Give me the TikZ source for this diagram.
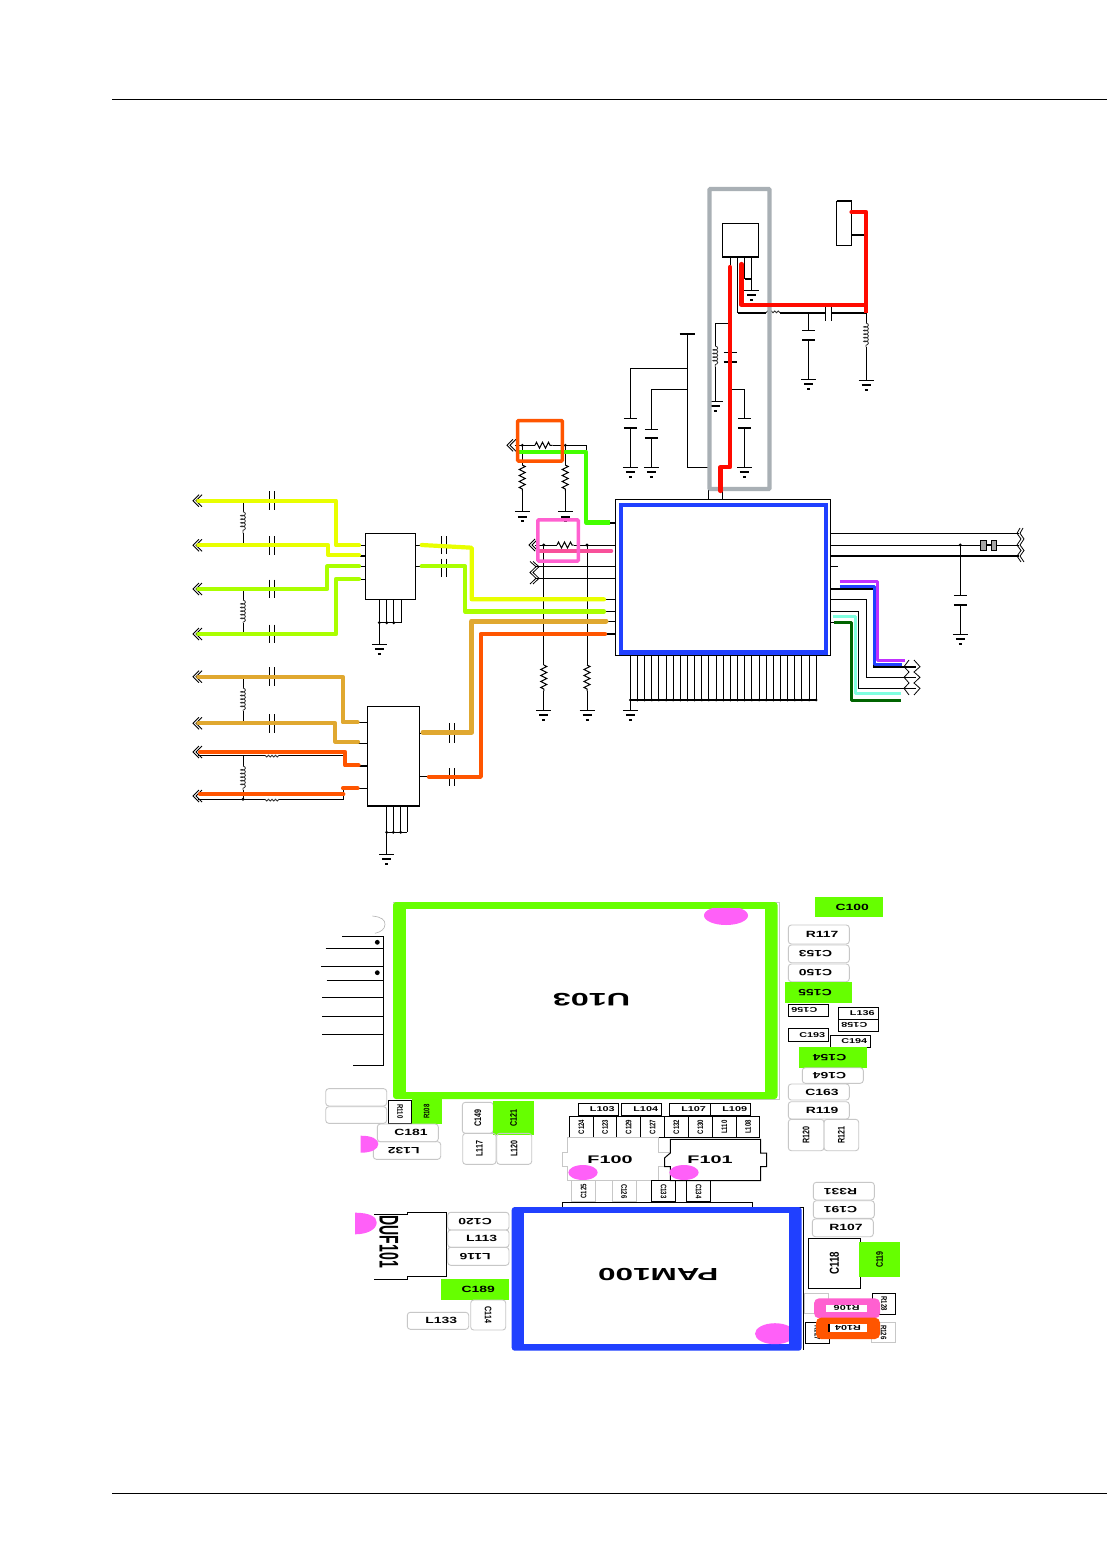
\documentclass[tikz,border=0pt]{standalone}
\usepackage{fontspec}
\setmainfont{Liberation Sans}
\newfontfamily\widefont[FakeStretch=1.55]{Liberation Sans}
\newfontfamily\narrowfont[FakeStretch=0.75]{Liberation Sans}
\newfontfamily\hugefont[FakeStretch=1.8]{Liberation Sans}
\usetikzlibrary{decorations.pathmorphing}

\definecolor{cyellow}{HTML}{E8FF00}
\definecolor{clime}{HTML}{AAFF00}
\definecolor{cgold}{HTML}{E0A830}
\definecolor{corange}{HTML}{FF5500}
\definecolor{cgreen}{HTML}{66FF00}
\definecolor{cnet}{HTML}{44FF00}
\definecolor{cblue}{HTML}{2040FF}
\definecolor{cgrey}{HTML}{A9B0B5}
\definecolor{cred}{HTML}{FF0A00}
\definecolor{cpink}{HTML}{FF60D0}
\definecolor{crose}{HTML}{F8509A}
\definecolor{cmagenta}{HTML}{FF60F8}
\definecolor{cpurple}{HTML}{C030FF}
\definecolor{caqua}{HTML}{80FFE0}
\definecolor{cdark}{HTML}{006400}

\newcommand{\padgap}{}
\tikzset{
    wire/.style={line width=1},
    fatwire/.style={line width=2},
    net/.style={line width=4.2,line cap=round,line join=round},
    box/.style={draw,line width=1,inner sep=0,outer sep=0},
    pad/.style={inner sep=0,outer sep=0},
    blackpad/.style={pad,draw=black,line width=.9},
    graypad/.style={pad,draw=black!22,line width=.9,rounded corners=3},
    greenpad/.style={pad,fill=cgreen},
    whitepad/.style={pad,fill=white},
    hlabel/.style={font=\widefont\bfseries\fontsize{9}{9}\selectfont,execute at begin node={\def\padgap{\hspace*{6.5pt}}}},
    hsmall/.style={font=\widefont\bfseries\fontsize{7}{7}\selectfont,execute at begin node={\def\padgap{\hspace*{8pt}}}},
    tiny/.style={font=\widefont\bfseries\fontsize{7}{7}\selectfont},
    vlabel/.style={font=\narrowfont\bfseries\fontsize{9.5}{9.5}\selectfont},
    vsmall/.style={font=\narrowfont\bfseries\fontsize{8}{8}\selectfont},
    hugelabel/.style={font=\hugefont\bfseries\fontsize{11}{11}\selectfont},
    resistor/.style={wire,decorate,decoration={zigzag,segment length=6,amplitude=3}},
    inductor/.style={line width=.8,black!80,decorate,decoration={coil,segment length=3.6,amplitude=2.4,aspect=.5}}
}

% pad: style, name, x1, y1, x2, y2, rotation of the text
\newcommand{\pad}[7]{%
    \pgfmathsetmacro{\padw}{#5-#3}\pgfmathsetmacro{\padh}{#6-#4}%
    \pgfmathsetmacro{\padx}{(#3+#5)/2}\pgfmathsetmacro{\pady}{(#4+#6)/2}%
    \node[#1,minimum width=\padw,minimum height=\padh] (#2) at (\padx,\pady) {\rotatebox[origin=c]{#7}{\padgap#2}};}
% parts of the schematic
\newcommand{\gnd}[2]{%
    \draw[wire] (#1-7.5,#2) -- (#1+7.5,#2);
    \draw[fatwire] (#1-4.5,#2+5) -- (#1+4.5,#2+5);
    \draw[fatwire] (#1-1.5,#2+9.5) -- (#1+1.5,#2+9.5);}
\newcommand{\plates}[3]{% shunt capacitor: x, upper plate, lower plate
    \draw[wire] (#1-6.5,#2) -- (#1+6.5,#2);
    \draw[fatwire] (#1-6.5,#3) -- (#1+6.5,#3);}
\newcommand{\sercap}[3]{% series capacitor: x, y, half height
    \draw[wire] (#1-2.5,#2-#3) -- (#1-2.5,#2+#3);
    \draw[wire] (#1+2.5,#2-#3) -- (#1+2.5,#2+#3);}
\newcommand{\resdrop}[4]{% x, top, top of resistor, ground
    \draw[wire] (#1,#2) -- (#1,#3);
    \draw[resistor] (#1,#3) -- (#1,#3+26);
    \draw[wire] (#1,#3+26) -- (#1,#4);
    \gnd{#1}{#4}}
\newcommand{\chev}[2]{% double arrow head at a left input
    \draw[line width=.8] (#1+6,#2-6) -- (#1,#2) -- (#1+6,#2+6);
    \draw[line width=.8] (#1+9,#2-6) -- (#1+3,#2) -- (#1+9,#2+6);}
\newcommand{\jdot}[2]{\fill (#1,#2) circle (1.6);}
\newcommand{\hcoil}[3]{% x, y, start angle of the bumps (180: below, -180: above)
    \draw[line width=.8,black!80] (#1,#2) arc (#3:0:1.75) arc (#3:0:1.75) arc (#3:0:1.75) arc (#3:0:1.75);}

\begin{document}
\begin{tikzpicture}[x=1pt,y=-1pt]
    \useasboundingbox (0,0) rectangle (1107,1554);
    \fill[white] (0,0) rectangle (1107,1554);

    % Page rules
    \coordinate (ruleA) at (112,99);
    \coordinate (ruleB) at (112,1493);
    \draw[line width=.8] (ruleA) -- (1107,99);
    \draw[line width=.8] (ruleB) -- (1107,1493);

    % Main blocks of the schematic
    \node[box,minimum width=215.5,minimum height=155.5] (RFIC) at (723.2,577.7) {};
    \node[box,minimum width=50,minimum height=66] (FEMa) at (390.3,566.3) {};
    \node[box,minimum width=52,minimum height=99.5] (FEMb) at (393.3,756.3) {};
    \draw[line width=2] (FEMb.south west) -- (FEMb.south east);
    \node[box,minimum width=36.5,minimum height=33] (REG) at (740.3,240.5) {};
    \node[box,minimum width=15,minimum height=44] (CONN) at (844,223.5) {};
    \draw[line width=2] (CONN.north west) -- (CONN.north east);

    % Regulator and supply
    \draw[wire] (730.5,257) -- (730.5,270);
    \draw[wire] (737.5,257) -- (737.5,312.7);
    \draw[line width=1.6] (737.5,312.7) -- (766,312.7);
    \hcoil{766}{312.7}{-180}
    \draw[line width=1.6] (780,312.7) -- (825.5,312.7);
    \draw[wire] (825.5,305) -- (825.5,321) (831.5,305) -- (831.5,321);
    \draw[line width=1.6] (831.5,312.7) -- (866,312.7);
    \draw[wire] (744.5,257) -- (744.5,279.3);
    \draw[wire] (751.5,257) -- (751.5,290);
    \draw[fatwire] (744.5,279.3) -- (751.5,279.3);
    \gnd{751.5}{290}
    \draw[wire] (808.7,312.7) -- (808.7,330.5);
    \plates{808.7}{330.5}{339.5}
    \draw[wire] (808.7,339.5) -- (808.7,379);
    \gnd{808.7}{379}
    \draw[wire] (866,312.7) -- (866,323);
    \draw[inductor] (866,323) -- (866,347);
    \draw[wire] (866,347) -- (866,380);
    \gnd{866}{380}
    \draw[fatwire] (CONN.east |- 0,235) -- (866,235);
    \draw[wire] (730,323.3) -- (715.3,323.3) -- (715.3,346);
    \draw[inductor] (715.3,346) -- (715.3,367);
    \draw[wire] (715.3,367) -- (715.3,401);
    \gnd{715.3}{401}
    \plates{730}{352.7}{362}
    \draw[wire] (730,389.3) -- (744.3,389.3) -- (744.3,418.7);
    \plates{744.3}{418.7}{428}
    \draw[wire] (744.3,428) -- (744.3,467.3);
    \gnd{744.3}{467.3}
    \draw[fatwire] (679.5,334) -- (695,334);
    \draw[wire] (687.3,334) -- (687.3,467.3) -- (708,467.3);
    \draw[wire] (687.3,368.3) -- (630.3,368.3) -- (630.3,418.7);
    \plates{630.3}{418.7}{428}
    \draw[wire] (630.3,428) -- (630.3,467.3);
    \gnd{630.3}{467.3}
    \draw[wire] (687.3,389.3) -- (651.3,389.3) -- (651.3,429.3);
    \plates{651.3}{429.3}{438.3}
    \draw[wire] (651.3,438.3) -- (651.3,467.3);
    \gnd{651.3}{467.3}
    \draw[wire] (708.6,490) -- (RFIC.north -| 708.6,0);
    \draw[wire] (722.4,490) -- (RFIC.north -| 722.4,0);

    % Grey frame and red nets
    \draw[cgrey,line width=4.4,rounded corners=1] (709.5,189) rectangle (769.5,489);
    \draw[net,cred] (730,267) -- (730,467) -- (720.5,467) -- (720.5,491);
    \draw[net,cred] (741.5,264) -- (741.5,305) -- (866,305) -- (866,212) -- (CONN.east |- 0,212);
    \draw[net,cred,line cap=butt] (866,305) -- (866,313);

    % Input top left of the chip
    \chev{507}{445.3}
    \draw[wire] (515,445.3) -- (535,445.3);
    \draw[wire] (552.7,445.3) -- (586.7,445.3) -- (586.7,451);
    \draw[resistor] (535,445.3) -- (552.7,445.3);
    \jdot{522.3}{445.3}
    \jdot{565.3}{445.3}
    \resdrop{522.3}{445.3}{465}{511.7}
    \resdrop{565.3}{445.3}{465}{511.7}
    \draw[net,cnet,line cap=butt] (516.7,451.7) -- (586,451.7) -- (586,522.5) -- (610,522.5);
    \draw[fatwire] (610,522.5) -- (RFIC.west |- 0,522.5);
    \draw[corange,line width=3.5,rounded corners=1] (517.5,420.5) rectangle (562.3,461);

    % Left pins of the chip
    \chev{529}{545}
    \draw[wire] (534.5,545) -- (557,545);
    \draw[wire] (573.5,545) -- (RFIC.west |- 0,545);
    \draw[resistor] (557,545) -- (573.5,545);
    \draw[wire] (536,566.7) -- (RFIC.west |- 0,566.7);
    \draw[wire] (536,578.3) -- (RFIC.west |- 0,578.3);
    \draw[line width=.8] (530,561.5) -- (536,566.7) -- (530,572.5) -- (536,578.3) -- (530,584);
    \draw[line width=.8] (533,561.5) -- (539,566.7) -- (533,572.5) -- (539,578.3) -- (533,584);
    \jdot{543.8}{545}
    \jdot{587}{545}
    \resdrop{543.8}{545}{665}{710}
    \resdrop{587}{545}{665}{710}
    \draw[net,crose,line width=4.6] (538,551) -- (611,551);
    \draw[cpink,line width=3.5,rounded corners=1] (537.8,519.8) rectangle (578.3,561);
    \foreach \yy in {599.3,611.3,621} \draw[wire] (605,\yy) -- (RFIC.west |- 0,\yy);
    \draw[fatwire] (605,634.3) -- (RFIC.west |- 0,634.3);

    % Chip bottom pins
    \draw[fatwire] (629.8,700) -- (816.8,700);
    \foreach \i in {0,...,26} {
        \pgfmathsetmacro{\xx}{630.3+7.15*\i}
        \draw[wire] (\xx,655.5) -- (\xx,700);
        \fill (\xx,700) circle (1.5);
    }
    \gnd{630.3}{710}
    \draw[wire] (630.3,700) -- (630.3,710);

    % Blue frame of the chip
    \draw[cblue,line width=4.6] (621,505) rectangle (826,652.5);

    % Right side of the chip
    \draw[wire] (RFIC.east |- 0,533.3) -- (1019,533.3);
    \draw[wire] (RFIC.east |- 0,545) -- (1019,545);
    \draw[fatwire] (RFIC.east |- 0,556) -- (1019,556);
    \draw[wire] (RFIC.east |- 0,566.7) -- (838,566.7);
    \node[box,draw=black,fill=black!35,minimum width=5.5,minimum height=10] (XTa) at (983.7,545) {};
    \node[box,draw=black,fill=black!35,minimum width=5.5,minimum height=10] (XTb) at (994,545) {};
    \draw[fatwire] (XTa) -- (XTb);
    \foreach \dx in {0,3} \draw[line width=.8] (1020+\dx,528) -- (1017+\dx,533.3) -- (1021+\dx,539) -- (1017+\dx,545) -- (1021+\dx,550.5) -- (1017+\dx,556) -- (1021+\dx,562);
    \jdot{960.3}{545}
    \draw[wire] (960.3,545) -- (960.3,595.3);
    \plates{960.3}{595.3}{605}
    \draw[wire] (960.3,605) -- (960.3,634);
    \gnd{960.3}{634}

    \draw[fatwire] (RFIC.east |- 0,588.7) -- (874,588.7) -- (874,666.7) -- (916,666.7);
    \draw[wire] (RFIC.east |- 0,599.3) -- (866.6,599.3) -- (866.6,677.3) -- (916,677.3);
    \draw[wire] (RFIC.east |- 0,611.3) -- (858.6,611.3) -- (858.6,688.3) -- (916,688.3);
    \draw[wire] (RFIC.east |- 0,622.3) -- (836,622.3);
    \draw[net,cpurple,line width=3,line cap=butt] (839.7,581) -- (877.6,581) -- (877.6,660) -- (905,660);
    \draw[net,cblue,line width=3,line cap=butt] (839.7,586.5) -- (874,586.5) -- (874,664) -- (901.7,664);
    \draw[net,caqua,line width=3,line cap=butt] (832.8,616) -- (855.9,616) -- (855.9,693.3) -- (900.7,693.3);
    \draw[net,cdark,line width=3,line cap=butt] (833.8,622.3) -- (851,622.3) -- (851,700.3) -- (900.7,700.3);
    \draw[line width=.8] (909,660) -- (904,666.7) -- (909,672) -- (904,677.3) -- (909,683) -- (904,688.3) -- (909,695);
    \draw[line width=.8] (914,660) -- (920,666.7) -- (914,672) -- (920,677.3) -- (914,683) -- (920,688.3) -- (914,695);

    % Input filters on the left
    \foreach \yy in {500.7,545.3,589,634,676.7,723.3} {
        \chev{193}{\yy}
        \sercap{271.8}{\yy}{9.3}
    }
    \foreach \yy in {752,796} {\chev{193}{\yy}}
    \draw[wire] (243,500.7) -- (243,511.7) (243,533.3) -- (243,545.3);
    \draw[inductor] (243,511.7) -- (243,533.3);
    \draw[wire] (243,589) -- (243,600) (243,622.7) -- (243,634);
    \draw[inductor] (243,600) -- (243,622.7);
    \draw[wire] (243,676.7) -- (243,688) (243,710.7) -- (243,723.3);
    \draw[inductor] (243,688) -- (243,710.7);
    \draw[wire] (243,755.3) -- (243,766) (243,790) -- (243,799.3);
    \draw[inductor] (243,766) -- (243,790);
    \draw[wire] (198,755.3) -- (265,755.3) (279,755.3) -- (345,755.3);
    \hcoil{265}{755.3}{180}
    \draw[wire] (198,799.3) -- (265,799.3) (279,799.3) -- (343.3,799.3) -- (343.3,788.3);
    \hcoil{265}{799.3}{180}
    \jdot{243}{799.3}

    \foreach \yy in {545.3,566.3,579} \draw[wire] (360,\yy) -- (FEMa.west |- 0,\yy);
    \draw[fatwire] (360,555.7) -- (FEMa.west |- 0,555.7);
    \foreach \yy in {545.3,566.3} \draw[wire] (FEMa.east |- 0,\yy) -- (421,\yy);
    \foreach \xx in {379.3,386.7,393.7,401.3} \draw[wire] (\xx,599.3) -- (\xx,622.7);
    \draw[wire] (379.3,622.7) -- (401.3,622.7);
    \draw[wire] (379.3,622.7) -- (379.3,644);
    \foreach \xx in {379.3,386.7,393.7} {\jdot{\xx}{622.7}}
    \gnd{379.3}{644}

    \draw[wire] (358,722.3) -- (FEMb.west |- 0,722.3);
    \draw[wire] (358,743.3) -- (FEMb.west |- 0,743.3);
    \draw[fatwire] (358,766) -- (FEMb.west |- 0,766);
    \draw[wire] (358,788.3) -- (FEMb.west |- 0,788.3);
    \draw[wire] (FEMb.east |- 0,733.3) -- (423,733.3);
    \draw[wire] (FEMb.east |- 0,776) -- (428,776);
    \foreach \xx in {386.7,393.3,400.7,407.3} \draw[wire] (\xx,806) -- (\xx,832.3);
    \draw[wire] (386.7,832.3) -- (407.3,832.3);
    \draw[wire] (386.7,832.3) -- (386.7,854.3);
    \foreach \xx in {386.7,393.3,400.7} {\jdot{\xx}{832.3}}
    \gnd{386.7}{854.3}

    \sercap{444.2}{545}{9}
    \sercap{444.2}{567.7}{9}
    \sercap{451.7}{733}{9.6}
    \sercap{451.7}{777.2}{9}

    % Coloured nets
    \draw[net,cyellow] (198.3,500.7) -- (336,500.7) -- (336,545.3) -- (359,545.3);
    \draw[net,cyellow] (198.3,545.3) -- (328.3,545.3) -- (328.3,555) -- (359,555);
    \draw[net,clime] (198.3,589) -- (327.3,589) -- (327.3,566.3) -- (359,566.3);
    \draw[net,clime] (198.3,634) -- (336,634) -- (336,579) -- (359,579);
    \draw[net,cgold] (198.3,676.7) -- (342.7,676.7) -- (342.7,722.3) -- (357.5,722.3);
    \draw[net,cgold] (198.3,723.3) -- (335.3,723.3) -- (335.3,741.7) -- (358,741.7);
    \draw[net,corange] (200,752) -- (345,752) -- (345,765.3) -- (358.5,765.3);
    \draw[net,corange] (200,794.3) -- (343.3,794.3);
    \draw[net,corange] (343,788.3) -- (357.5,788.3);
    \draw[net,cyellow] (421.7,545) -- (471.7,547.7) -- (471.7,599.3) -- (604,599.3);
    \draw[net,clime] (421.7,566.3) -- (465,566.3) -- (465,611.5) -- (604,611.5);
    \draw[net,cgold,line width=5] (423,732.3) -- (471.7,732.3) -- (471.7,621) -- (606,621);
    \draw[net,corange,line width=4.4] (429,776.7) -- (480.7,776.7) -- (480.7,634) -- (605,634);

    % Board view: U103
    \draw[black!22,line width=.8] (393,902) -- (779.3,902) -- (779.3,1099.5) -- (700,1099.5);
    \fill[cgreen,rounded corners=3] (393,902) rectangle (777.5,1099);
    \node[pad,fill=white,minimum width=359,minimum height=182.7] (U103) at (585.5,1000.3) {};
    \node[pad,font=\hugefont\bfseries\fontsize{18}{18}\selectfont] at (591.5,999.5) {\rotatebox[origin=c]{180}{U103}};
    \begin{scope}
        \clip (U103.south west) rectangle (U103.north east);
        \fill[cmagenta] (726,915.5) ellipse (22 and 9.5);
    \end{scope}
    \draw[black!30,line width=.6] (372.3,916) .. controls (382,917) and (385,920) .. (385,924.3) .. controls (385,929) and (381,932) .. (375,933.3);
    \draw[wire] (342.3,936.7) -- (383.3,936.7) -- (383.3,948.7);
    \draw[wire] (325.7,948.7) -- (383,948.7) -- (383,966.7);
    \draw[wire] (321,966.7) -- (383.3,966.7) -- (383.3,1065) -- (353.3,1065);
    \draw[wire] (326.7,980) -- (383.3,980);
    \draw[line width=1.4] (322.3,997.7) -- (383.3,997.7);
    \draw[wire] (322.3,1016.3) -- (383.3,1016.3);
    \draw[wire] (322.3,1034.3) -- (383.3,1034.3);
    \fill (377.3,942.3) circle (2.4);
    \fill (377.3,972.7) circle (2.4);

    % Pads round U103
    \pad{greenpad,hlabel}{C100}{815}{897}{883}{917}{0}
    \pad{graypad,hlabel}{R117}{788.3}{925}{849.3}{944}{0}
    \pad{graypad,hlabel}{C153}{788.3}{945}{849.3}{962.7}{180}
    \pad{graypad,hlabel}{C150}{788.3}{964}{849.3}{981.7}{180}
    \pad{greenpad,hlabel}{C155}{785}{981.7}{851.7}{1002.7}{180}
    \pad{blackpad,hsmall}{C156}{788.3}{1004}{828.3}{1016.7}{180}
    \pad{blackpad,hsmall}{L136}{838.3}{1007.3}{878.3}{1019.3}{0}
    \pad{blackpad,hsmall}{C158}{838.3}{1019.3}{878.3}{1031.3}{180}
    \pad{blackpad,hsmall}{C193}{788.3}{1028.3}{828.3}{1041.3}{0}
    \pad{blackpad,hsmall}{C194}{830.3}{1035.3}{870.3}{1047.3}{0}
    \pad{greenpad,hlabel}{C154}{799}{1047.3}{866.7}{1067.7}{180}
    \pad{graypad,hlabel}{C164}{802.3}{1067.7}{863.3}{1083.3}{180}
    \pad{graypad,hlabel}{C163}{788.3}{1084}{849.3}{1100}{0}
    \pad{graypad,hlabel}{R119}{788.3}{1101.7}{849.3}{1119}{0}
    \pad{graypad,vlabel}{R120}{788.3}{1119.3}{824}{1150.7}{90}
    \pad{graypad,vlabel}{R121}{824}{1119.3}{858.7}{1150.7}{90}
    \node[graypad,minimum width=61,minimum height=17.3] (padA) at (356.2,1097.3) {};
    \node[graypad,minimum width=61,minimum height=16.6] (padB) at (356.2,1115) {};
    \pad{blackpad,vsmall}{R110}{388.3}{1100}{411.7}{1123.3}{-90}
    \pad{greenpad,vsmall}{R108}{411.7}{1099.3}{441.7}{1124}{90}
    \pad{graypad,hlabel}{C181}{377.3}{1124}{438.3}{1141.7}{0}
    \pad{graypad,hlabel}{L132}{373.3}{1141.7}{440.7}{1159.3}{180}
    \fill[cmagenta] (360.7,1135.7) .. controls (372,1135.7) and (378.3,1139) .. (378.3,1144) .. controls (378.3,1149) and (372,1152.7) .. (360.7,1152.7) -- cycle;
    \pad{graypad,vlabel}{C149}{462.3}{1102.3}{493.3}{1133.3}{90}
    \pad{greenpad,vlabel}{C121}{493.3}{1101}{534}{1135}{90}
    \pad{graypad,vlabel}{L117}{462.7}{1133.3}{496}{1164.3}{90}
    \pad{graypad,vlabel}{L120}{496.7}{1133.3}{531.7}{1164.3}{90}

    % Row of small pads between the blocks
    \pad{blackpad,hsmall}{L103}{578.3}{1103.3}{618.3}{1115.7}{0}
    \pad{blackpad,hsmall}{L104}{621.7}{1103.3}{661.7}{1115.7}{0}
    \pad{blackpad,hsmall}{L107}{669.3}{1103.3}{710}{1115.7}{0}
    \pad{blackpad,hsmall}{L109}{710.7}{1103.3}{750.7}{1115.7}{0}
    \pad{blackpad,vsmall}{C124}{569.3}{1116.7}{593.3}{1137.3}{90}
    \pad{blackpad,vsmall}{C123}{593.3}{1116.7}{616.7}{1137.3}{90}
    \pad{blackpad,vsmall}{C129}{616.7}{1116.7}{640.7}{1137.3}{90}
    \pad{blackpad,vsmall}{C127}{640.7}{1116.7}{664.3}{1137.3}{90}
    \pad{blackpad,vsmall}{C132}{664.3}{1116.7}{688.3}{1137.3}{90}
    \pad{blackpad,vsmall}{C130}{688.3}{1116.7}{712.3}{1137.3}{90}
    \pad{blackpad,vsmall}{L110}{712.3}{1116.7}{736.3}{1137.3}{90}
    \pad{blackpad,vsmall}{L108}{736.3}{1116.7}{759.7}{1137.3}{90}

    % Filters
    \draw[black!22,line width=.9] (670,1152.7) -- (658.3,1152.7) -- (658.3,1137.7) -- (567.7,1137.7) -- (567.7,1152.7) -- (562.7,1152.7) -- (562.7,1166.7) -- (567.7,1166.7) -- (567.7,1180.7) -- (658.3,1180.7) -- (658.3,1166.7) -- (670,1166.7);
    \draw[line width=1] (670.3,1139.3) -- (760.7,1139.3) -- (760.7,1153) -- (766.7,1153) -- (766.7,1166.7) -- (760.7,1166.7) -- (760.7,1180.7) -- (670.3,1180.7) -- (670.3,1166.7) -- (664.5,1166.7) -- (664.5,1158) -- (670.3,1153) -- cycle;
    \node[pad,hugelabel] (F100) at (610,1160) {F100};
    \node[pad,hugelabel] (F101) at (710,1160) {F101};
    \fill[cmagenta] (583,1172.5) ellipse (14.7 and 7.5);
    \fill[cmagenta] (684,1172.5) ellipse (14.7 and 7.5);
    \pad{graypad,vsmall,rounded corners=0}{C125}{571.7}{1180.7}{595.7}{1201.7}{90}
    \pad{graypad,vsmall,rounded corners=0}{C126}{612.3}{1180.7}{636}{1201.7}{-90}
    \pad{blackpad,vsmall}{C133}{651.7}{1180.7}{675.7}{1201.7}{-90}
    \pad{blackpad,vsmall}{C134}{686.7}{1180.7}{710.3}{1201.7}{-90}

    % Board view: PAM100
    \draw[wire] (562.7,1207) -- (562.7,1202.7) -- (752.3,1202.7) -- (752.3,1207);
    \draw[wire] (790,1207) -- (803,1207) -- (803,1350);
    \fill[cblue,rounded corners=3] (511.7,1207) rectangle (801.7,1350.7);
    \node[pad,fill=white,minimum width=264.7,minimum height=131] (PAM100) at (656.4,1278.8) {};
    \node[pad,font=\hugefont\bfseries\fontsize{17.5}{17.5}\selectfont] at (658.3,1274.3) {\rotatebox[origin=c]{180}{PAM100}};
    \begin{scope}
        \clip (PAM100.south west) rectangle (PAM100.north east);
        \fill[cmagenta] (775,1333.7) ellipse (20 and 10.5);
    \end{scope}

    % Pads round PAM100
    \pad{graypad,hlabel}{R331}{813.3}{1182.3}{874.3}{1200}{180}
    \pad{graypad,hlabel}{C191}{813.3}{1200.7}{874.3}{1218.3}{180}
    \pad{graypad,hlabel}{R107}{812.3}{1219}{873.3}{1236.7}{0}
    \pad{blackpad,vlabel,font=\narrowfont\bfseries\fontsize{13}{13}\selectfont}{C118}{808.3}{1238.3}{860.7}{1288.3}{90}
    \pad{greenpad,vlabel}{C119}{859}{1242.3}{900}{1276.7}{90}
    \node[graypad,rounded corners=0,minimum width=24,minimum height=20] (padC) at (816.7,1303.3) {};
    \pad{blackpad,vsmall}{R128}{872.3}{1293.3}{895.7}{1314.3}{-90}
    \pad{blackpad,vsmall}{R127}{805.7}{1322.3}{829.3}{1343.3}{-90}
    \pad{graypad,vsmall,rounded corners=0}{R126}{871.7}{1322.3}{895.7}{1342.3}{-90}
    \fill[cpink,rounded corners=5] (814,1298.3) rectangle (880,1318.3);
    \fill[corange,rounded corners=5] (816,1317.7) rectangle (880,1339);
    \pad{whitepad,tiny}{R106}{826}{1305}{867.3}{1311.7}{180}
    \pad{whitepad,tiny}{R104}{829.3}{1324.3}{866.7}{1332.3}{180}
    \draw[fatwire] (R104.north west) -- (R104.south west);

    % DUF101 and its pads
    \draw[wire] (374.3,1214.3) -- (407.7,1214.3) -- (407.7,1212.3) -- (446.7,1212.3) -- (446.7,1276.7) -- (407.7,1276.7) -- (407.7,1279.3) -- (374.3,1279.3);
    \fill[cmagenta] (355,1212.7) .. controls (370,1212.7) and (376.7,1217) .. (376.7,1222.5) .. controls (376.7,1229) and (368,1234.3) .. (355,1234.3) -- cycle;
    \node[pad,font=\bfseries\fontsize{27}{27}\selectfont] (DUF101) at (389,1241.7) {\rotatebox[origin=c]{-90}{\scalebox{.52}[1]{DUF101}}};
    \pad{graypad,hlabel}{C120}{447.7}{1212.3}{509}{1230}{180}
    \pad{graypad,hlabel}{L113}{447.7}{1230}{509}{1247.3}{0}
    \pad{graypad,hlabel}{L116}{447.7}{1247.3}{509}{1265.3}{180}
    \pad{greenpad,hlabel}{C189}{441}{1279}{509}{1299.7}{0}
    \pad{graypad,vlabel}{C114}{470.7}{1300}{505.7}{1330}{-90}
    \pad{graypad,hlabel}{L133}{407.3}{1312.3}{468.7}{1329.3}{0}
\end{tikzpicture}
\end{document}
